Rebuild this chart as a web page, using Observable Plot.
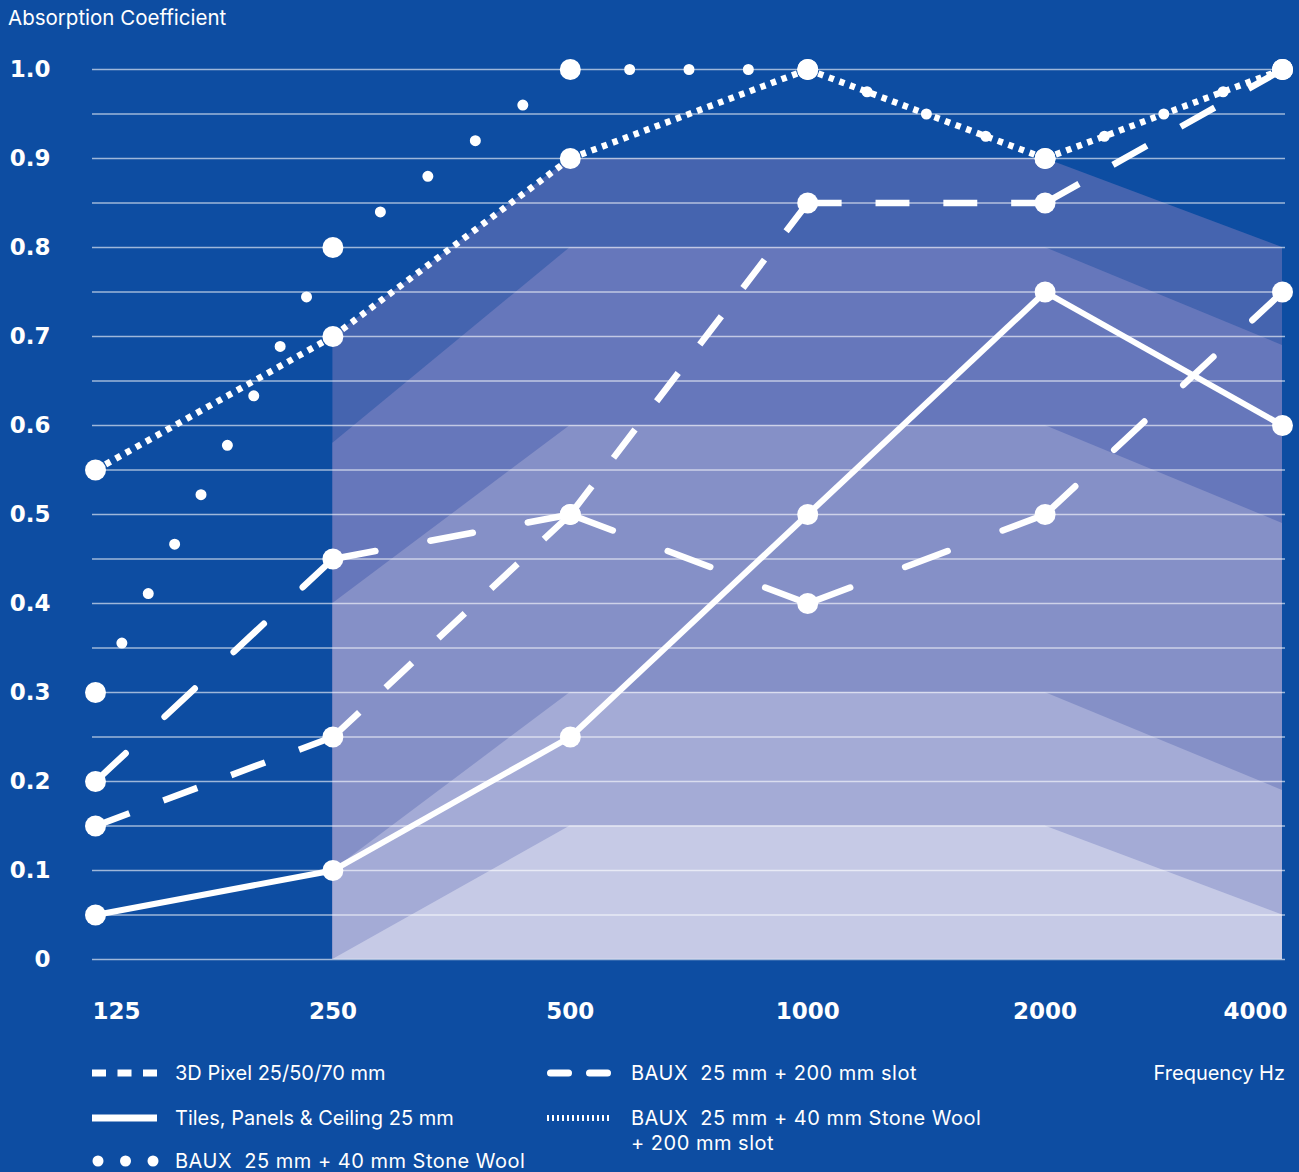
<!DOCTYPE html>
<html><head><meta charset="utf-8">
<script src="https://cdn.jsdelivr.net/npm/d3@7"></script>
<script src="https://cdn.jsdelivr.net/npm/@observablehq/plot@0.6"></script>
<style>
html,body{margin:0;padding:0;background:#0D4DA2;}
#wrap{position:relative;width:1299px;height:1172px;overflow:hidden;background:#0D4DA2;color:#fff;font-family:Inter,"Noto Sans",sans-serif;}
#wrap svg{position:absolute;left:0;top:0;}
.lbl{position:absolute;white-space:pre;font-size:20px;line-height:22px;color:#fff;}
</style></head><body><div id="wrap"></div>
<script>
// ---- data ----
const freqs = [125, 250, 500, 1000, 2000, 4000];
const freqLabels = ["125", "250", "500", "1000", "2000", "4000"];
const pixel3d = [0.15, 0.25, 0.50, 0.85, 0.85, 1.00];
const tiles = [0.05, 0.10, 0.25, 0.50, 0.75, 0.60];
const bauxStone = [0.30, 0.80, 1.00, 1.00, 0.90, 1.00];
const bauxSlot = [0.20, 0.45, 0.50, 0.40, 0.50, 0.75];
const bauxStoneSlot = [0.55, 0.70, 0.90, 1.00, 0.90, 1.00];
const bandFreqs = [250, 500, 2000, 4000];
const band5 = [0.70, 0.90, 0.90, 0.80];
const band4 = [0.58, 0.80, 0.80, 0.69];
const band3 = [0.40, 0.60, 0.60, 0.49];
const band2 = [0.10, 0.30, 0.30, 0.19];
const band1 = [0.00, 0.15, 0.15, 0.05];
const yTicks = [0, 0.1, 0.2, 0.3, 0.4, 0.5, 0.6, 0.7, 0.8, 0.9, 1.0];
const yTickLabels = ["0", "0.1", "0.2", "0.3", "0.4", "0.5", "0.6", "0.7", "0.8", "0.9", "1.0"];
const gridValues = [0, 0.05, 0.1, 0.15, 0.2, 0.25, 0.3, 0.35, 0.4, 0.45, 0.5, 0.55, 0.6, 0.65, 0.7, 0.75, 0.8, 0.85, 0.9, 0.95, 1.0];

const bands = [band5, band4, band3, band2, band1];
const bandColors = ["#4564AF", "#6677BB", "#8590C7", "#A4ABD6", "#C6CAE6"];

function segments(vals) {
  const out = [];
  for (let i = 0; i < vals.length - 1; i++) {
    out.push({f: freqs[i], v: vals[i], s: i}, {f: freqs[i + 1], v: vals[i + 1], s: i});
  }
  return out;
}
const allSeries = [pixel3d, tiles, bauxStone, bauxSlot, bauxStoneSlot];
const points = allSeries.flatMap(vals => vals.map((v, i) => ({f: freqs[i], v})));
const tickFont = {fill: "white", fontSize: 23, fontWeight: "bold", fontFamily: "DejaVu Sans"};

// line series in drawing order, with their styles
const lineSpecs = [
  {vals: tiles, width: 6, cap: "butt", dash: null},
  {vals: pixel3d, width: 6.5, cap: "butt", dash: [36, 36]},
  {vals: bauxSlot, width: 6.5, cap: "round", dash: [41, 53]},
  {vals: bauxStone, width: 11, cap: "round", dash: [0, 57]},
  {vals: bauxStoneSlot, width: 6.5, cap: "butt", dash: [5.5, 6]}
];

const plot = Plot.plot({
  width: 1299, height: 1040,
  marginLeft: 92, marginRight: 14, marginTop: 69, marginBottom: 81,
  x: {type: "log", domain: [125, 4000], range: [95, 1282], axis: null},
  y: {domain: [0, 1], range: [959, 69], axis: null},
  style: {background: "transparent", color: "white", overflow: "visible"},
  marks: [
    ...bands.map((b, i) => Plot.areaY(bandFreqs.map((f, j) => ({f, v: b[j]})), {x: "f", y: "v", fill: bandColors[i]})),
    Plot.ruleY(gridValues, {stroke: "white", strokeOpacity: 0.6, strokeWidth: 1.3}),
    ...lineSpecs.map(s => Plot.line(segments(s.vals), {x: "f", y: "v", z: "s", stroke: "white", strokeWidth: s.width, strokeLinecap: s.cap})),
    Plot.dot(points, {x: "f", y: "v", r: 10.5, fill: "white"}),
    Plot.text(yTicks, {y: d => d, text: (d, i) => yTickLabels[i], frameAnchor: "left", dx: -42, textAnchor: "end", ...tickFont}),
    Plot.text(freqs.slice(0, 1), {x: d => d, text: d => freqLabels[freqs.indexOf(d)], frameAnchor: "bottom", dy: 59, dx: -3, textAnchor: "start", ...tickFont}),
    Plot.text(freqs.slice(1, 5), {x: d => d, text: d => freqLabels[freqs.indexOf(d)], frameAnchor: "bottom", dy: 59, textAnchor: "middle", ...tickFont}),
    Plot.text(freqs.slice(5), {x: d => d, text: d => freqLabels[freqs.indexOf(d)], frameAnchor: "bottom", dy: 59, dx: 5, textAnchor: "end", ...tickFont})
  ]
});
const wrap = document.getElementById("wrap");
wrap.appendChild(plot);

// dash patterns aligned to each segment's ends
const lineGroups = plot.querySelectorAll('g[aria-label="line"]');
lineSpecs.forEach((spec, k) => {
  const g = lineGroups[k];
  if (!g || !spec.dash) return;
  const [dash, gap] = spec.dash;
  g.querySelectorAll("path").forEach(p => {
    const L = p.getTotalLength();
    if (dash === 0) {
      const n = Math.max(1, Math.round(L / gap));
      p.setAttribute("stroke-dasharray", `0 ${L / n}`);
    } else {
      const n = Math.max(1, Math.round((L + gap) / (dash + gap)));
      const s = L / (n * dash + (n - 1) * gap);
      p.setAttribute("stroke-dasharray", `${dash * s} ${gap * s}`);
    }
  });
});

// title & legend
function label(text, left, cy, extra) {
  const d = document.createElement("div");
  d.className = "lbl";
  d.textContent = text;
  d.style.left = left + "px";
  d.style.top = (cy - 11) + "px";
  if (extra) Object.assign(d.style, extra);
  wrap.appendChild(d);
}
const spaced = {letterSpacing: "0.5px"};
label("Absorption Coefficient", 8, 18, {fontSize: "20.5px"});
label("3D Pixel 25/50/70 mm", 175, 1073);
label("Tiles, Panels & Ceiling 25 mm", 175, 1118);
label("BAUX  25 mm + 40 mm Stone Wool", 175, 1161, spaced);
label("BAUX  25 mm + 200 mm slot", 631, 1073, spaced);
label("BAUX  25 mm + 40 mm Stone Wool", 631, 1118, spaced);
label("+ 200 mm slot", 631, 1143, spaced);
label("Frequency Hz", 0, 1073, {left: "auto", right: (1299 - 1285) + "px"});

const ns = "http://www.w3.org/2000/svg";
const leg = document.createElementNS(ns, "svg");
leg.setAttribute("width", 1299); leg.setAttribute("height", 132);
leg.style.top = "1040px";
wrap.appendChild(leg);
function el(tag, attrs) {
  const e = document.createElementNS(ns, tag);
  for (const k in attrs) e.setAttribute(k, attrs[k]);
  leg.appendChild(e);
}
[92, 117.5, 143].forEach(x => el("rect", {x, y: 29.5, width: 14, height: 7, fill: "white"}));
el("rect", {x: 92, y: 74.5, width: 65, height: 7, fill: "white"});
[98, 125.5, 153].forEach(cx => el("circle", {cx, cy: 121, r: 5.5, fill: "white"}));
[[550.5, 568.5], [589.5, 607.5]].forEach(([a, b]) => el("line", {x1: a, x2: b, y1: 33, y2: 33, stroke: "white", "stroke-width": 7, "stroke-linecap": "round"}));
for (let x = 548; x <= 611; x += 5) el("line", {x1: x, x2: x, y1: 75, y2: 81, stroke: "white", "stroke-width": 2});
</script></body></html>
